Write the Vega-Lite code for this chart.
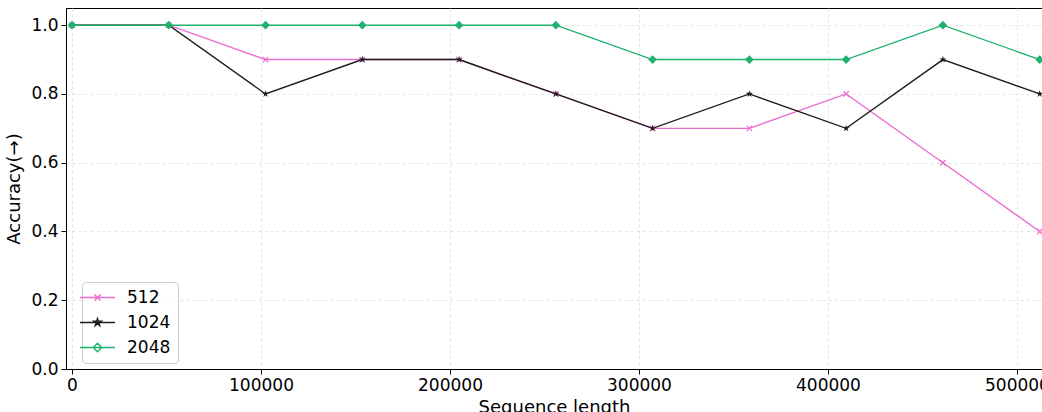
{
  "$schema": "https://vega.github.io/schema/vega-lite/v6.json",
  "width": 976,
  "height": 361,
  "autosize": {"type": "none"},
  "padding": {"left": 66, "top": 8, "right": 0, "bottom": 43},
  "config": {
    "font": "DejaVu Sans",
    "view": {"stroke": "#000000", "strokeWidth": 1},
    "axis": {
      "labelFont": "DejaVu Sans", "labelFontSize": 17, "labelColor": "#000000",
      "titleFont": "DejaVu Sans", "titleFontSize": 18, "titleFontWeight": "normal", "titleColor": "#000000",
      "domainColor": "#000000", "tickColor": "#000000", "tickSize": 5,
      "gridColor": "#dddddd", "gridDash": [3, 3], "gridWidth": 0.8
    }
  },
  "data": {
    "values": [
      {"len": 0, "series": "512", "acc": 1.0},
      {"len": 51200, "series": "512", "acc": 1.0},
      {"len": 102400, "series": "512", "acc": 0.9},
      {"len": 153600, "series": "512", "acc": 0.9},
      {"len": 204800, "series": "512", "acc": 0.9},
      {"len": 256000, "series": "512", "acc": 0.8},
      {"len": 307200, "series": "512", "acc": 0.7},
      {"len": 358400, "series": "512", "acc": 0.7},
      {"len": 409600, "series": "512", "acc": 0.8},
      {"len": 460800, "series": "512", "acc": 0.6},
      {"len": 512000, "series": "512", "acc": 0.4},
      {"len": 0, "series": "1024", "acc": 1.0},
      {"len": 51200, "series": "1024", "acc": 1.0},
      {"len": 102400, "series": "1024", "acc": 0.8},
      {"len": 153600, "series": "1024", "acc": 0.9},
      {"len": 204800, "series": "1024", "acc": 0.9},
      {"len": 256000, "series": "1024", "acc": 0.8},
      {"len": 307200, "series": "1024", "acc": 0.7},
      {"len": 358400, "series": "1024", "acc": 0.8},
      {"len": 409600, "series": "1024", "acc": 0.7},
      {"len": 460800, "series": "1024", "acc": 0.9},
      {"len": 512000, "series": "1024", "acc": 0.8},
      {"len": 0, "series": "2048", "acc": 1.0},
      {"len": 51200, "series": "2048", "acc": 1.0},
      {"len": 102400, "series": "2048", "acc": 1.0},
      {"len": 153600, "series": "2048", "acc": 1.0},
      {"len": 204800, "series": "2048", "acc": 1.0},
      {"len": 256000, "series": "2048", "acc": 1.0},
      {"len": 307200, "series": "2048", "acc": 0.9},
      {"len": 358400, "series": "2048", "acc": 0.9},
      {"len": 409600, "series": "2048", "acc": 0.9},
      {"len": 460800, "series": "2048", "acc": 1.0},
      {"len": 512000, "series": "2048", "acc": 0.9}
    ]
  },
  "encoding": {
    "x": {
      "field": "len", "type": "quantitative",
      "scale": {"domain": [-3175, 513230], "nice": false, "zero": false},
      "axis": {"title": "Sequence length", "values": [0, 100000, 200000, 300000, 400000, 500000], "format": "d", "titlePadding": 5, "labelPadding": 3}
    },
    "y": {
      "field": "acc", "type": "quantitative",
      "scale": {"domain": [0, 1.05], "nice": false},
      "axis": {"title": "Accuracy(→)", "values": [0, 0.2, 0.4, 0.6, 0.8, 1.0], "format": ".1f", "titlePadding": 7, "labelPadding": 3}
    }
  },
  "layer": [
    {
      "mark": {"type": "line", "strokeWidth": 1.4, "clip": true},
      "encoding": {
        "color": {
          "field": "series", "type": "nominal",
          "scale": {"domain": ["512", "1024", "2048"], "range": ["#ea6ccf", "#1c1c1c", "#1fb26d"]}
        },
        "order": {"field": "len", "type": "quantitative"}
      }
    },
    {
      "mark": {"type": "point", "filled": true, "opacity": 0, "size": 49, "strokeWidth": 1.4},
      "encoding": {
        "color": {
          "field": "series", "type": "nominal",
          "scale": {"domain": ["512", "1024", "2048"], "range": ["#ea6ccf", "#1c1c1c", "#1fb26d"]},
          "legend": {
            "title": null,
            "orient": "none",
            "legendX": 16,
            "legendY": 274,
            "direction": "vertical",
            "labelFont": "DejaVu Sans",
            "labelFontSize": 17,
            "labelColor": "#000000",
            "symbolSize": 49,
            "symbolOffset": 0,
            "labelOffset": 21,
            "rowPadding": 7,
            "padding": 7,
            "fillColor": "rgba(255,255,255,0.8)",
            "strokeColor": "#cccccc",
            "cornerRadius": 4,
            "symbolOpacity": 1,
            "symbolStrokeWidth": 1.4
          }
        },
        "stroke": {
          "field": "series", "type": "nominal",
          "scale": {"domain": ["512", "1024", "2048"], "range": ["#ea6ccf", "#1c1c1c", "#1fb26d"]}
        },
        "shape": {
          "field": "series", "type": "nominal",
          "scale": {"domain": ["512", "1024", "2048"], "range": [
            "M-5,0L5,0M-0.86,-0.86L0.86,0.86M-0.86,0.86L0.86,-0.86",
            "M-5,0L5,0M0,-1.1L0.245,-0.338L1.046,-0.34L0.397,0.129L0.647,0.89L0,0.418L-0.647,0.89L-0.397,0.129L-1.046,-0.34L-0.245,-0.338Z",
            "M-5,0L5,0M0,-1.2L1.2,0L0,1.2L-1.2,0Z"
          ]}
        }
      }
    },
    {
      "transform": [{"filter": "datum.series === '512'"}],
      "mark": {"type": "point", "filled": false, "opacity": 1, "size": 30, "strokeWidth": 1.2, "color": "#ea6ccf", "shape": "M-1,-1L1,1M-1,1L1,-1", "clip": true},
      "encoding": {}
    },
    {
      "transform": [{"filter": "datum.series === '1024'"}],
      "mark": {"type": "point", "filled": true, "opacity": 1, "size": 55, "color": "#1c1c1c", "shape": "M0,-1L0.223,-0.307L0.951,-0.309L0.361,0.117L0.588,0.809L0,0.38L-0.588,0.809L-0.361,0.117L-0.951,-0.309L-0.223,-0.307Z", "clip": true},
      "encoding": {}
    },
    {
      "transform": [{"filter": "datum.series === '2048'"}],
      "mark": {"type": "point", "filled": true, "opacity": 1, "size": 75, "color": "#1fb26d", "shape": "M0,-1L1,0L0,1L-1,0Z", "clip": true},
      "encoding": {}
    }
  ]
}
